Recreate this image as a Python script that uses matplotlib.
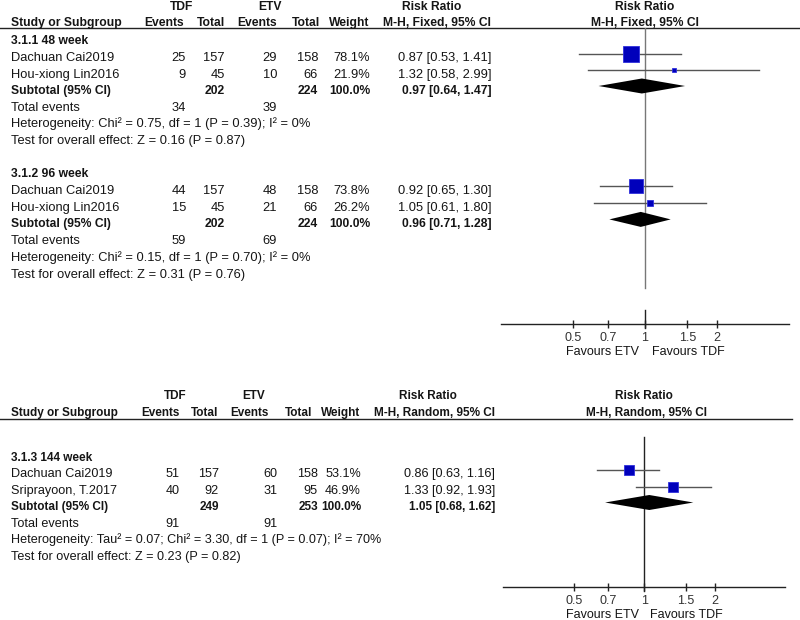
import matplotlib
matplotlib.use('Agg')
import matplotlib.pyplot as plt

plt.rcParams['font.family'] = ['Liberation Sans', 'DejaVu Sans']

# ---- data: 3.1.1 48 week ----
g1_title = '3.1.1 48 week'
g1_studies = ['Dachuan Cai2019', 'Hou-xiong Lin2016']
g1_tdf_events = [25, 9]
g1_tdf_total = [157, 45]
g1_etv_events = [29, 10]
g1_etv_total = [158, 66]
g1_weight = [78.1, 21.9]
g1_rr = [0.87, 1.32]
g1_lo = [0.53, 0.58]
g1_hi = [1.41, 2.99]
g1_sub = [0.97, 0.64, 1.47]
g1_sub_totals = [202, 224]
g1_total_events = [34, 39]
g1_het = 'Heterogeneity: Chi² = 0.75, df = 1 (P = 0.39); I² = 0%'
g1_test = 'Test for overall effect: Z = 0.16 (P = 0.87)'

# ---- data: 3.1.2 96 week ----
g2_title = '3.1.2 96 week'
g2_studies = ['Dachuan Cai2019', 'Hou-xiong Lin2016']
g2_tdf_events = [44, 15]
g2_tdf_total = [157, 45]
g2_etv_events = [48, 21]
g2_etv_total = [158, 66]
g2_weight = [73.8, 26.2]
g2_rr = [0.92, 1.05]
g2_lo = [0.65, 0.61]
g2_hi = [1.30, 1.80]
g2_sub = [0.96, 0.71, 1.28]
g2_sub_totals = [202, 224]
g2_total_events = [59, 69]
g2_het = 'Heterogeneity: Chi² = 0.15, df = 1 (P = 0.70); I² = 0%'
g2_test = 'Test for overall effect: Z = 0.31 (P = 0.76)'

# ---- data: 3.1.3 144 week ----
g3_title = '3.1.3 144 week'
g3_studies = ['Dachuan Cai2019', 'Sriprayoon, T.2017']
g3_tdf_events = [51, 40]
g3_tdf_total = [157, 92]
g3_etv_events = [60, 31]
g3_etv_total = [158, 95]
g3_weight = [53.1, 46.9]
g3_rr = [0.86, 1.33]
g3_lo = [0.63, 0.92]
g3_hi = [1.16, 1.93]
g3_sub = [1.05, 0.68, 1.62]
g3_sub_totals = [249, 253]
g3_total_events = [91, 91]
g3_het = 'Heterogeneity: Tau² = 0.07; Chi² = 3.30, df = 1 (P = 0.07); I² = 70%'
g3_test = 'Test for overall effect: Z = 0.23 (P = 0.82)'

axis_ticks = [0.5, 0.7, 1, 1.5, 2]
axis_ticklabels = ['0.5', '0.7', '1', '1.5', '2']

TXT = '#151515'
W, H = 800, 620

fig = plt.figure(figsize=(8, 6.2), dpi=100)
bg = fig.add_axes([0, 0, 1, 1])
bg.set_xlim(0, W)
bg.set_ylim(H, 0)
bg.axis('off')


def txt(x, yc, s, ha='left', bold=False, fs=9.3):
    # yc is the middle of the cap height, in pixels from the top
    if bold:
        fs = fs * 0.94
    bg.text(x, yc + 0.358 * fs * 100 / 72, s, ha=ha, va='baseline', fontsize=fs,
            fontweight='bold' if bold else 'normal', color=TXT)


def forest_axes(x_lo, x_hi, y_top, y_axis):
    ax = fig.add_axes([x_lo / W, 1 - y_axis / H, (x_hi - x_lo) / W, (y_axis - y_top) / H])
    ax.set_xscale('log')
    ax.set_xlim(0.25, 4)
    ax.set_ylim(y_axis, y_top)
    for s in ['top', 'left', 'right']:
        ax.spines[s].set_visible(False)
    ax.spines['bottom'].set_color('#222222')
    ax.spines['bottom'].set_linewidth(1.0)
    ax.set_yticks([])
    ax.set_xticks(axis_ticks)
    ax.set_xticklabels(axis_ticklabels)
    ax.xaxis.set_minor_locator(matplotlib.ticker.NullLocator())
    ax.tick_params(axis='x', direction='inout', length=6, width=1.0, color='#222222',
                   labelsize=9, labelcolor='#333333', pad=2.5)
    ax.patch.set_alpha(0)
    return ax


def draw_group(ax, cols, y0, step, fs, title, studies, tdf_ev, tdf_n, etv_ev, etv_n,
               weight, rr, lo, hi, sub, sub_n, tot_ev, het, test):
    rows = [y0 + i * step for i in range(7)]
    txt(cols['label'], rows[0], title, bold=True, fs=fs)
    for i, name in enumerate(studies):
        y = rows[1 + i]
        txt(cols['label'], y, name, fs=fs)
        txt(cols['tdf_ev'], y, str(tdf_ev[i]), ha='right', fs=fs)
        txt(cols['tdf_n'], y, str(tdf_n[i]), ha='right', fs=fs)
        txt(cols['etv_ev'], y, str(etv_ev[i]), ha='right', fs=fs)
        txt(cols['etv_n'], y, str(etv_n[i]), ha='right', fs=fs)
        txt(cols['wt'], y, f'{weight[i]:.1f}%', ha='right', fs=fs)
        txt(cols['rr'], y, f'{rr[i]:.2f} [{lo[i]:.2f}, {hi[i]:.2f}]', ha='right', fs=fs)
        ym = y - 3
        ax.plot([lo[i], hi[i]], [ym, ym], color='#555555', lw=1.0, zorder=2)
        side = (1.1 + 0.178 * weight[i]) * 0.72
        ax.plot([rr[i]], [ym], marker='s', ms=side, mfc='#0000bb', mec='#3030dd',
                mew=0.6, zorder=3)
    ys = rows[3]
    txt(cols['label'], ys, 'Subtotal (95% CI)', bold=True, fs=fs)
    txt(cols['tdf_n'], ys, str(sub_n[0]), ha='right', bold=True, fs=fs)
    txt(cols['etv_n'], ys, str(sub_n[1]), ha='right', bold=True, fs=fs)
    txt(cols['wt'], ys, '100.0%', ha='right', bold=True, fs=fs)
    txt(cols['rr'], ys, f'{sub[0]:.2f} [{sub[1]:.2f}, {sub[2]:.2f}]', ha='right', bold=True, fs=fs)
    yd = ys - 3.5
    ax.fill([sub[1], sub[0], sub[2], sub[0]], [yd, yd - 7.5, yd, yd + 7.5],
            color='black', lw=0, zorder=3)
    txt(cols['label'], rows[4], 'Total events', fs=fs)
    txt(cols['tdf_ev'], rows[4], str(tot_ev[0]), ha='right', fs=fs)
    txt(cols['etv_ev'], rows[4], str(tot_ev[1]), ha='right', fs=fs)
    txt(cols['label'], rows[5], het, fs=fs)
    txt(cols['label'], rows[6], test, fs=fs)


# ---------------- top panel ----------------
fs1 = 9.25
txt(181.5, 6, 'TDF', ha='center', bold=True, fs=fs1)
txt(270, 6, 'ETV', ha='center', bold=True, fs=fs1)
txt(432, 6, 'Risk Ratio', ha='center', bold=True, fs=fs1)
txt(645, 6, 'Risk Ratio', ha='center', bold=True, fs=fs1)
txt(11, 22, 'Study or Subgroup', bold=True, fs=fs1)
txt(164.5, 22, 'Events', ha='center', bold=True, fs=fs1)
txt(211, 22, 'Total', ha='center', bold=True, fs=fs1)
txt(257, 22, 'Events', ha='center', bold=True, fs=fs1)
txt(306.5, 22, 'Total', ha='center', bold=True, fs=fs1)
txt(349, 22, 'Weight', ha='center', bold=True, fs=fs1)
txt(491, 22, 'M-H, Fixed, 95% CI', ha='right', bold=True, fs=fs1)
txt(645, 22, 'M-H, Fixed, 95% CI', ha='center', bold=True, fs=fs1)
bg.plot([0, W], [28, 28], color='#222222', lw=1.0)

ax1 = forest_axes(500.7, 789.3, 28, 324)
ax1.plot([1, 1], [28, 288], color='#777777', lw=1.0, zorder=1)
ax1.plot([1, 1], [310, 328], color='#222222', lw=1.0, clip_on=False)

cols_top = dict(label=11, tdf_ev=186, tdf_n=225, etv_ev=277, etv_n=318, wt=370, rr=491)
draw_group(ax1, cols_top, 40, 16.5, fs1, g1_title, g1_studies, g1_tdf_events, g1_tdf_total,
           g1_etv_events, g1_etv_total, g1_weight, g1_rr, g1_lo, g1_hi, g1_sub,
           g1_sub_totals, g1_total_events, g1_het, g1_test)
draw_group(ax1, cols_top, 172.5, 16.8, fs1, g2_title, g2_studies, g2_tdf_events, g2_tdf_total,
           g2_etv_events, g2_etv_total, g2_weight, g2_rr, g2_lo, g2_hi, g2_sub,
           g2_sub_totals, g2_total_events, g2_het, g2_test)

txt(639, 351, 'Favours ETV', ha='right', fs=9)
txt(652, 351, 'Favours TDF', fs=9)

# ---------------- bottom panel ----------------
fs2 = 9.05
txt(175.5, 395, 'TDF', ha='center', bold=True, fs=fs2)
txt(253.5, 395, 'ETV', ha='center', bold=True, fs=fs2)
txt(428, 395, 'Risk Ratio', ha='center', bold=True, fs=fs2)
txt(644, 395, 'Risk Ratio', ha='center', bold=True, fs=fs2)
txt(11, 412, 'Study or Subgroup', bold=True, fs=fs2)
txt(160, 412, 'Events', ha='center', bold=True, fs=fs2)
txt(205, 412, 'Total', ha='center', bold=True, fs=fs2)
txt(249.5, 412, 'Events', ha='center', bold=True, fs=fs2)
txt(298.5, 412, 'Total', ha='center', bold=True, fs=fs2)
txt(341, 412, 'Weight', ha='center', bold=True, fs=fs2)
txt(495, 412, 'M-H, Random, 95% CI', ha='right', bold=True, fs=fs2)
txt(646, 412, 'M-H, Random, 95% CI', ha='center', bold=True, fs=fs2)
bg.plot([0, 792], [419, 419], color='#222222', lw=1.0)

ax2 = forest_axes(503.4, 785.2, 419, 587)
ax2.plot([1, 1], [437, 591], color='#222222', lw=1.0, zorder=1, clip_on=False)

cols_bot = dict(label=11, tdf_ev=180, tdf_n=219, etv_ev=277, etv_n=318, wt=361, rr=495)
draw_group(ax2, cols_bot, 456.5, 16.5, fs2, g3_title, g3_studies, g3_tdf_events, g3_tdf_total,
           g3_etv_events, g3_etv_total, g3_weight, g3_rr, g3_lo, g3_hi, g3_sub,
           g3_sub_totals, g3_total_events, g3_het, g3_test)

txt(639, 614, 'Favours ETV', ha='right', fs=9)
txt(650, 614, 'Favours TDF', fs=9)

fig.savefig('out.png', dpi=100)
